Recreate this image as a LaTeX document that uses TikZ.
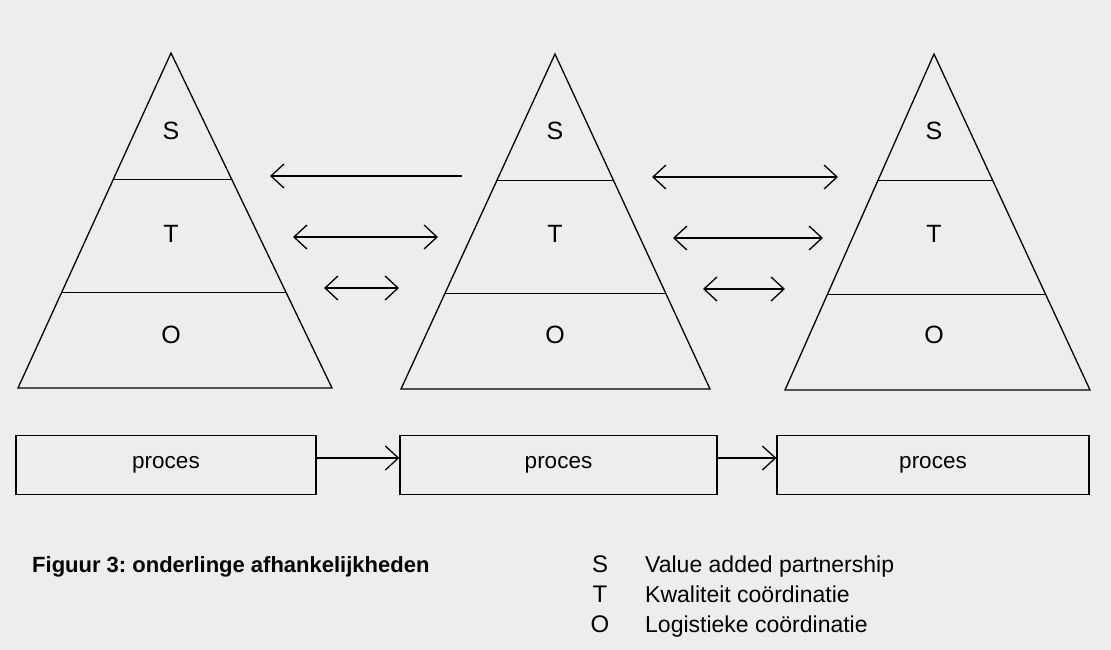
\documentclass[tikz,border=0pt]{standalone}
\usepackage{fontspec}
\setmainfont{Liberation Sans}
\usetikzlibrary{arrows.meta,calc}
\frenchspacing
\newcommand\pyramid[6]{%
  \coordinate (#1-a) at (#2,#3);
  \coordinate (#1-l) at (#4,#6);
  \coordinate (#1-r) at (#5,#6);
  \draw[ln] (#1-a) -- (#1-l) -- (#1-r) -- cycle;
  \draw[ln] ($(#1-a)!0.377!(#1-l)$) -- ($(#1-a)!0.377!(#1-r)$);
  \draw[ln] ($(#1-a)!0.715!(#1-l)$) -- ($(#1-a)!0.715!(#1-r)$);
  \node[lett] (#1-S) at (#2,140) {S};
  \node[lett] (#1-T) at (#2,242) {T};
  \node[lett] (#1-O) at (#2,343) {O};
}
\begin{document}
\begin{tikzpicture}[x=1pt,y=-1pt,
  ln/.style={line width=1.3pt, black, line join=miter},
  conn/.style={line width=1.3pt, black},
  >={Straight Barb[length=13pt,width=24pt]},
  lett/.style={anchor=base, inner sep=0pt, font=\fontsize{25}{30}\selectfont},
  box/.style={draw, line width=1.3pt, minimum height=59pt, inner sep=0pt, font=\fontsize{22.5}{27}\selectfont},
  legtxt/.style={anchor=base west, inner sep=0pt, font=\fontsize{23}{28}\selectfont},
  caption/.style={anchor=base west, inner sep=0pt, font=\bfseries\fontsize{22}{26}\selectfont}
]
\fill[black!7] (0,0) rectangle (1111,650);
\useasboundingbox (0,0) rectangle (1111,650);

\pyramid{A}{171}{53}{18}{332}{388}
\pyramid{B}{555}{54}{401}{710}{389}
\pyramid{C}{934}{54}{785}{1090}{390}

% arrows between pyramids
\coordinate (l1s) at (462,176); \coordinate (l1e) at (270,176);
\coordinate (l2s) at (293,237); \coordinate (l2e) at (438,237);
\coordinate (l3s) at (324,288); \coordinate (l3e) at (399,288);
\coordinate (r1s) at (652,177); \coordinate (r1e) at (838,177);
\coordinate (r2s) at (673,238); \coordinate (r2e) at (823,238);
\coordinate (r3s) at (703,289); \coordinate (r3e) at (785,289);
\draw[conn,->] (l1s) -- (l1e);
\draw[conn,<->] (l2s) -- (l2e);
\draw[conn,<->] (l3s) -- (l3e);
\draw[conn,<->] (r1s) -- (r1e);
\draw[conn,<->] (r2s) -- (r2e);
\draw[conn,<->] (r3s) -- (r3e);

% process boxes
\node[box, minimum width=300pt] (p1) at (166,465) {proces};
\node[box, minimum width=317pt] (p2) at (558.5,465) {proces};
\node[box, minimum width=312pt] (p3) at (933,465) {proces};
\draw[conn,->] ([yshift=7pt]p1.east) -- ([yshift=7pt]p1.east -| p2.west);
\draw[conn,->] ([yshift=7pt]p2.east) -- ([yshift=7pt]p2.east -| p3.west);

% caption
\node[caption] (cap) at (32,572) {Figuur 3: onderlinge afhankelijkheden};

% legend
\node[lett, font=\fontsize{24}{28}\selectfont] (kS) at (600,572) {S};
\node[lett, font=\fontsize{24}{28}\selectfont] (kT) at (600,602) {T};
\node[lett, font=\fontsize{24}{28}\selectfont] (kO) at (600,632) {O};
\node[legtxt] (vS) at (645,572) {Value added partnership};
\node[legtxt] (vT) at (645,602) {Kwaliteit coördinatie};
\node[legtxt] (vO) at (645,632) {Logistieke coördinatie};
\end{tikzpicture}
\end{document}
